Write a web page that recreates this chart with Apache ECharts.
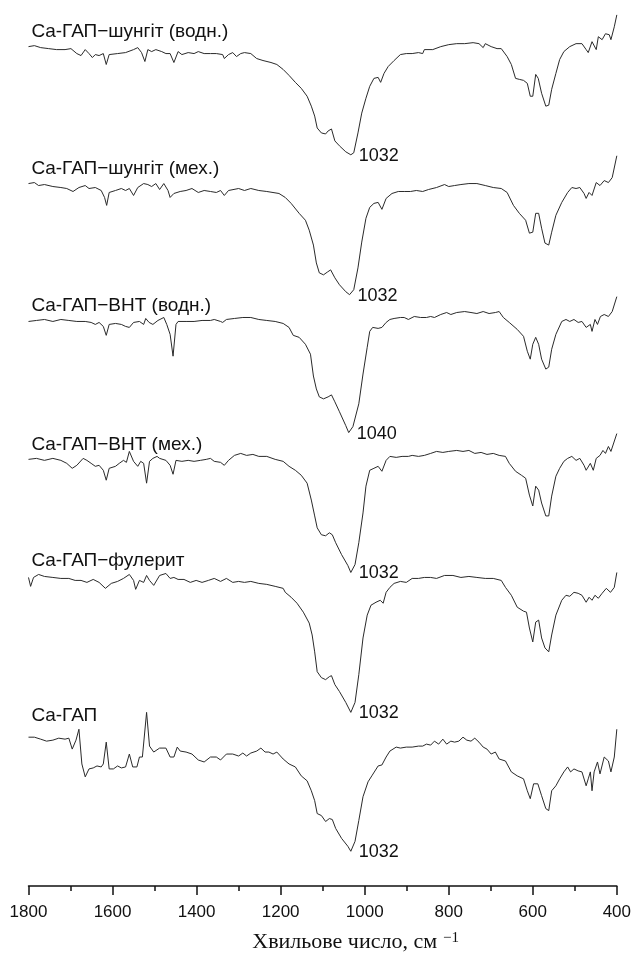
<!DOCTYPE html>
<html>
<head>
<meta charset="utf-8">
<script src="https://cdn.jsdelivr.net/npm/echarts@6/dist/echarts.min.js"></script>
<style>
  html, body { margin: 0; padding: 0; background: #fff; }
  #chart { width: 634px; height: 965px; }
</style>
</head>
<body>
<div id="chart"></div>
<script>
// назви зразків (зверху вниз)
const sampleNames = [
  'Ca-ГАП−шунгіт (водн.)',
  'Ca-ГАП−шунгіт (мех.)',
  'Ca-ГАП−ВНТ (водн.)',
  'Ca-ГАП−ВНТ (мех.)',
  'Ca-ГАП−фулерит',
  'Ca-ГАП'
];
const peakLabels = ['1032', '1032', '1040', '1032', '1032', '1032'];

// зсув кожного спектра по вертикалі (відн. од.)
const offsets = [726, 576, 426, 286, 163, 33];

// [хвильове число, пропускання (відн. од.)]
const specShungWater = [
  [1800,120],[1786,121],[1771,119],[1752,118],[1733,117],[1713,117],[1699,118],[1685,113],[1675,111],[1665,117],
  [1656,113],[1648,109],[1641,112],[1632,111],[1622,113],[1615,102],[1608,112],[1588,113],[1569,114],[1550,117],
  [1540,119],[1531,114],[1523,105],[1516,117],[1507,115],[1497,117],[1483,115],[1473,113],[1463,113],[1454,104],
  [1444,115],[1435,112],[1420,114],[1406,113],[1396,115],[1382,113],[1367,113],[1353,113],[1338,112],[1334,108],
  [1324,112],[1314,114],[1305,110],[1295,113],[1286,114],[1271,113],[1257,108],[1242,106],[1223,104],[1209,102],
  [1194,97],[1180,91],[1165,84],[1151,78],[1137,70],[1127,60],[1119,50],[1113,38],[1103,33],[1093,32],
  [1087,35],[1079,37],[1071,25],[1060,20],[1045,14],[1033,11],[1026,13],[1016,33],[1007,53],[997,68],
  [988,80],[978,88],[968,89],[962,84],[954,93],[944,100],[930,106],[915,112],[901,113],[887,113],
  [872,114],[862,113],[858,117],[838,117],[819,120],[800,122],[781,123],[762,123],[742,124],[728,123],
  [718,119],[713,123],[699,120],[685,118],[675,118],[661,110],[651,102],[641,88],[632,87],[622,86],
  [613,83],[606,70],[600,70],[593,92],[587,88],[579,73],[569,60],[562,61],[555,77],[545,93],
  [536,107],[526,115],[512,120],[497,123],[483,123],[473,117],[468,114],[459,125],[449,117],[444,130],
  [435,127],[427,133],[418,132],[414,127],[406,140],[400,152]
];
const specShungMech = [
  [1800,132],[1786,133],[1776,130],[1762,131],[1742,129],[1723,128],[1709,127],[1694,124],[1680,128],[1665,130],
  [1656,127],[1641,128],[1627,125],[1619,118],[1614,110],[1608,123],[1593,125],[1579,127],[1569,125],[1560,127],
  [1550,120],[1540,128],[1526,132],[1516,131],[1507,129],[1497,132],[1488,126],[1478,132],[1468,125],[1463,118],
  [1454,122],[1439,124],[1425,125],[1411,127],[1396,123],[1382,125],[1367,124],[1353,123],[1343,125],[1334,120],
  [1324,125],[1300,127],[1286,125],[1271,127],[1252,125],[1233,124],[1204,122],[1189,118],[1175,112],[1156,102],
  [1141,95],[1132,85],[1122,70],[1115,52],[1108,42],[1098,40],[1088,43],[1081,45],[1071,37],[1060,30],
  [1045,23],[1036,20],[1026,25],[1016,47],[1007,73],[997,97],[988,108],[978,112],[968,113],[959,106],
  [949,117],[935,122],[920,124],[906,124],[891,124],[877,125],[862,124],[848,126],[829,128],[810,131],
  [800,129],[786,130],[771,131],[752,132],[733,132],[713,130],[694,128],[675,127],[661,123],[646,110],
  [632,102],[617,95],[608,82],[600,83],[593,102],[586,102],[579,87],[571,72],[562,70],[555,83],
  [545,100],[531,113],[517,123],[507,128],[497,127],[488,128],[478,122],[473,117],[466,123],[459,120],
  [449,133],[440,130],[430,135],[420,133],[411,138],[400,160]
];
const specCntWater = [
  [1800,143],[1781,144],[1762,145],[1742,143],[1723,145],[1704,144],[1685,143],[1665,143],[1651,142],[1641,140],
  [1632,142],[1622,138],[1615,129],[1608,140],[1593,141],[1579,140],[1569,138],[1560,137],[1550,142],[1536,143],
  [1526,140],[1521,146],[1513,142],[1504,140],[1492,144],[1478,147],[1471,140],[1463,130],[1456,108],[1449,140],
  [1444,143],[1425,143],[1406,143],[1387,144],[1367,144],[1358,145],[1343,143],[1338,142],[1329,145],[1310,146],
  [1290,147],[1271,147],[1252,145],[1233,144],[1213,143],[1194,141],[1180,137],[1170,129],[1156,127],[1141,120],
  [1129,110],[1122,88],[1115,75],[1108,67],[1098,65],[1087,67],[1079,69],[1071,62],[1060,52],[1045,38],
  [1038,31],[1028,37],[1014,60],[1004,90],[994,117],[988,133],[981,137],[968,136],[959,137],[949,142],
  [940,145],[930,146],[915,147],[906,147],[896,145],[882,148],[867,147],[853,147],[843,148],[834,147],
  [819,150],[805,152],[795,150],[781,152],[762,153],[747,152],[733,151],[718,153],[704,151],[689,152],
  [680,153],[670,147],[656,142],[637,135],[622,128],[613,113],[606,105],[600,120],[593,127],[586,120],
  [579,105],[569,95],[562,97],[555,115],[545,130],[531,143],[521,145],[512,143],[502,145],[492,142],
  [483,143],[473,137],[463,140],[459,133],[452,145],[446,140],[439,148],[430,150],[420,148],[411,153],
  [400,168]
];
const specCntMech = [
  [1800,144],[1781,145],[1762,143],[1742,145],[1723,143],[1709,140],[1696,135],[1685,138],[1670,145],[1661,143],
  [1651,140],[1641,137],[1632,138],[1622,133],[1615,123],[1608,135],[1593,137],[1584,140],[1574,143],[1567,141],
  [1560,152],[1550,142],[1540,137],[1533,142],[1526,140],[1519,120],[1512,142],[1504,145],[1494,147],[1488,145],
  [1473,143],[1463,138],[1456,129],[1449,143],[1435,142],[1420,143],[1406,142],[1391,143],[1377,144],[1367,145],
  [1358,142],[1343,141],[1334,138],[1324,143],[1310,148],[1295,150],[1281,148],[1266,149],[1252,147],[1233,147],
  [1213,144],[1194,142],[1180,137],[1165,133],[1151,128],[1137,120],[1127,103],[1119,87],[1113,75],[1103,68],
  [1093,67],[1084,70],[1077,68],[1069,60],[1055,48],[1040,37],[1033,30],[1023,38],[1014,60],[1004,90],
  [997,117],[988,133],[978,135],[968,137],[959,132],[949,143],[940,147],[925,146],[911,147],[896,147],
  [887,148],[872,147],[858,148],[843,150],[829,152],[814,151],[800,152],[781,153],[766,152],[752,153],
  [738,150],[723,151],[709,149],[694,150],[680,148],[665,147],[656,140],[641,132],[627,128],[617,125],
  [608,108],[600,97],[593,117],[586,113],[579,100],[569,87],[562,87],[555,107],[545,127],[536,135],
  [526,142],[517,145],[507,147],[497,143],[488,145],[478,138],[473,133],[463,140],[456,133],[449,145],
  [440,148],[433,153],[427,150],[420,157],[414,152],[400,170]
];
const specFullerite = [
  [1800,148],[1795,139],[1788,148],[1776,151],[1762,149],[1742,148],[1723,147],[1704,147],[1689,145],[1675,145],[1661,143],
  [1646,146],[1632,143],[1617,137],[1603,142],[1588,144],[1574,147],[1560,151],[1550,145],[1545,136],[1536,145],
  [1526,143],[1519,150],[1512,145],[1502,140],[1488,150],[1473,152],[1463,147],[1454,148],[1444,146],[1430,146],
  [1415,143],[1401,145],[1387,143],[1372,145],[1358,147],[1343,144],[1329,147],[1314,143],[1300,144],[1286,143],
  [1271,144],[1252,142],[1233,141],[1213,139],[1194,137],[1189,133],[1175,128],[1161,122],[1146,113],[1132,102],
  [1125,90],[1119,73],[1113,53],[1103,47],[1093,45],[1084,48],[1079,49],[1071,40],[1060,33],[1045,22],
  [1033,12],[1023,22],[1014,50],[1004,87],[994,110],[985,120],[973,123],[963,125],[956,122],[949,133],
  [940,138],[930,142],[915,144],[901,143],[887,147],[872,147],[858,148],[843,148],[829,147],[810,150],
  [790,150],[771,148],[752,149],[733,148],[713,147],[694,147],[675,145],[665,138],[651,130],[637,118],
  [622,114],[615,113],[608,97],[600,83],[593,103],[586,105],[579,87],[571,77],[562,73],[555,90],
  [545,110],[531,125],[521,130],[512,129],[502,133],[492,132],[483,130],[473,123],[466,128],[459,125],
  [452,130],[444,127],[435,132],[425,137],[415,133],[406,138],[400,153]
];
const specHap = [
  [1800,117],[1786,117],[1771,115],[1757,113],[1742,114],[1728,116],[1713,115],[1704,116],[1696,105],[1687,114],
  [1680,125],[1673,90],[1665,77],[1656,85],[1646,86],[1637,88],[1627,87],[1622,90],[1615,112],[1608,85],
  [1598,85],[1588,88],[1579,86],[1569,87],[1560,100],[1552,87],[1542,87],[1536,97],[1529,97],[1519,142],
  [1512,108],[1502,102],[1488,106],[1473,106],[1463,97],[1454,97],[1446,107],[1439,103],[1425,102],[1411,100],
  [1396,94],[1382,92],[1367,97],[1353,97],[1343,94],[1329,100],[1314,100],[1300,98],[1290,101],[1281,98],
  [1271,101],[1257,103],[1247,106],[1237,102],[1228,102],[1218,100],[1209,102],[1194,95],[1180,90],[1165,87],
  [1151,78],[1137,73],[1127,63],[1119,53],[1113,40],[1103,38],[1093,32],[1084,35],[1077,34],[1069,25],
  [1055,15],[1040,7],[1033,2],[1023,12],[1014,33],[1004,57],[992,72],[983,78],[968,88],[959,89],
  [949,97],[940,103],[925,107],[915,106],[901,107],[887,107],[872,108],[862,108],[853,110],[843,109],
  [834,113],[824,110],[814,115],[805,110],[795,113],[786,112],[776,113],[766,117],[757,114],[747,113],
  [738,116],[728,112],[718,107],[709,105],[699,100],[689,102],[680,95],[665,93],[651,82],[637,78],
  [622,75],[613,63],[606,55],[598,70],[588,70],[579,58],[569,45],[562,43],[555,63],[545,68],
  [536,75],[526,82],[517,87],[510,82],[502,85],[492,83],[483,82],[473,68],[468,75],[463,82],
  [459,63],[454,82],[446,92],[440,80],[430,97],[420,93],[414,82],[406,97],[400,125]
];

const spectra = [specShungWater, specShungMech, specCntWater, specCntMech, specFullerite, specHap];

const sansFont = '"Liberation Sans", Arial, sans-serif';
const serifFont = '"Liberation Serif", "Times New Roman", serif';

let chart = echarts.init(document.getElementById('chart'));

let series = spectra.map((spec, i) => {
  let data = spec.map(p => [p[0], p[1] + offsets[i]]);
  // мінімум смуги — для підпису піку
  let minPt = data.reduce((a, b) => (b[1] < a[1] ? b : a));
  // назва трохи вище лівого краю спектра
  let leftTop = Math.max(...data.filter(d => d[0] >= 1650).map(d => d[1]));
  return {
    name: sampleNames[i],
    type: 'line',
    data: data,
    showSymbol: false,
    symbol: 'none',
    lineStyle: { color: '#2a2a2a', width: 1 },
    markPoint: {
      symbol: 'circle',
      symbolSize: 0,
      data: [
        {
          coord: [1800, leftTop + 14],
          label: { show: true, position: 'right', distance: 3, formatter: sampleNames[i],
                   color: '#111', fontSize: 19, fontFamily: sansFont }
        },
        {
          coord: minPt,
          label: { show: true, position: 'right', distance: 8, offset: [0, 1], formatter: peakLabels[i],
                   color: '#111', fontSize: 18, fontFamily: sansFont }
        }
      ]
    }
  };
});

let option = {
  animation: false,
  backgroundColor: '#fff',
  grid: { left: 28.5, right: 13.5, top: 0, bottom: 72 },
  xAxis: {
    type: 'value',
    min: 400,
    max: 1800,
    interval: 200,
    inverse: true,
    name: '{t|Хвильове число, см}{sup|−1}',
    nameLocation: 'middle',
    nameGap: 45,
    nameTextStyle: {
      padding: [0, 0, 0, 66],
      rich: {
        t: { fontFamily: serifFont, fontSize: 22, color: '#111', lineHeight: 22, verticalAlign: 'bottom' },
        sup: { fontFamily: serifFont, fontSize: 15, color: '#111', lineHeight: 15, verticalAlign: 'top', padding: [0, 0, 14, 6] }
      }
    },
    axisLine: { show: true, lineStyle: { color: '#111', width: 1.5 } },
    axisTick: { show: true, length: 9, lineStyle: { color: '#111', width: 1.5 } },
    minorTick: { show: true, splitNumber: 2, length: 5, lineStyle: { color: '#111', width: 1.5 } },
    axisLabel: { color: '#111', fontSize: 17, fontFamily: sansFont, margin: 18, formatter: v => String(v) },
    splitLine: { show: false }
  },
  yAxis: {
    type: 'value',
    min: 0,
    max: 893,
    show: false
  },
  series: series
};

chart.setOption(option);
</script>
</body>
</html>
